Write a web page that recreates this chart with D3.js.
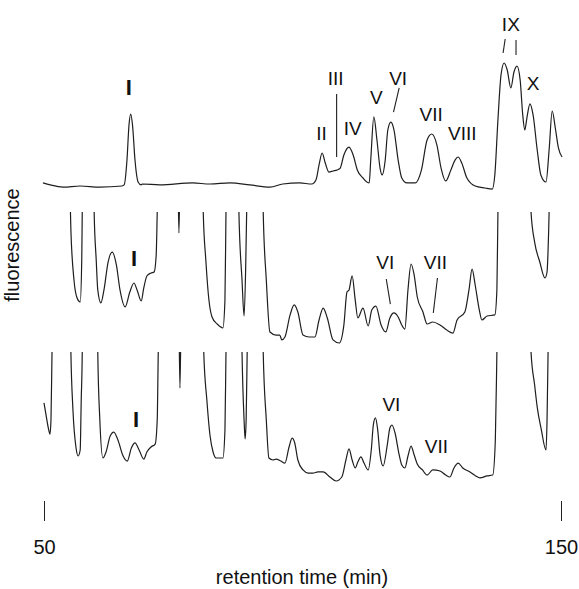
<!DOCTYPE html>
<html>
<head>
<meta charset="utf-8">
<script src="https://cdn.jsdelivr.net/npm/d3@7"></script>
<style>
  html, body { margin: 0; padding: 0; background: #fff; }
  svg text { font-family: "Liberation Sans", Arial, Helvetica, sans-serif; fill: #111; }
</style>
</head>
<body>
<svg id="chart" width="579" height="589"></svg>
<script>
// Retention time axis (min)
const timeTicks = [50, 150];

// Fluorescence traces: [retention time (min), relative fluorescence].
// Values above 100 are off-scale in the two lower traces.
const traceStandard = [
  [49.8,2.3],[51.2,0.8],[53.7,-0.8],[57.0,0],[60.8,-0.8],[65.1,0],[65.5,0.8],[66.05,19.5],[66.44,45.9],
  [66.77,54.1],[67.12,45.9],[67.6,19.5],[68.2,3],[68.8,0.8],[69.0,1.5],[72.4,0.8],[78.8,2.3],[82.1,1.5],
  [86.0,2.3],[89.8,0.8],[93.7,-0.8],[96.2,1.5],[99.5,2.3],[101.8,1.5],[102.6,4.5],[103.2,15.8],[103.8,24.8],
  [104.4,17.3],[105.1,10.5],[105.9,11.3],[106.7,12.0],[107.3,13.5],[108.0,23.3],[109.0,29.3],[109.8,23.3],
  [110.6,12.0],[111.7,6.0],[112.9,2.3],[113.2,19.5],[113.8,51.9],[114.4,34.6],[115.0,13.5],[115.4,8.3],
  [116.0,19.5],[116.5,42.1],[117.1,48.1],[117.7,42.1],[118.5,19.5],[119.2,6.0],[120.2,2.3],[121.8,2.3],
  [123.0,12.0],[124.1,34.6],[125.0,39.1],[126.0,30.8],[126.8,13.5],[127.7,3.8],[128.7,12.0],[129.5,19.5],
  [130.1,21.8],[130.8,17.3],[131.8,6.0],[133.4,0],[135.3,-1.5],[136.7,-2.3],[137.2,8.3],[137.8,49.6],
  [138.4,83.5],[139.0,92.5],[139.6,87.2],[140.3,73.7],[140.9,85.7],[141.5,90.2],[142.1,79.7],[142.6,53.4],
  [143.0,42.1],[143.4,51.1],[144.0,61.7],[144.6,53.4],[145.4,27.1],[146.1,8.3],[147.1,3.0],[147.7,27.1],
  [148.3,56.4],[148.9,43.6],[149.5,28.6],[150.2,21.8]
];

const traceSampleA = [
  [54.8,150],[55.2,86.5],[55.8,48.9],[56.4,35.3],[57.0,32.3],[57.3,63.9],[57.4,100],[57.6,150],[58.5,200],
  [59.5,150],[59.7,100],[60.1,63.9],[60.4,41.4],[61.0,31.6],[61.6,41.4],[62.4,62.4],[63.2,69.9],[64.0,60.2],
  [64.7,41.4],[65.7,28.6],[66.6,39.8],[67.4,46.6],[68.0,41.4],[68.8,33.1],[69.3,42.9],[69.9,51.9],[70.7,54.1],
  [71.3,54.9],[71.7,67.7],[71.9,100],[72.1,150],[74,200],[75.8,150],[76.1,84.2],[76.4,150],[78.5,200],
  [80.6,150],[80.8,100],[81.3,63.9],[81.9,33.8],[82.5,21.1],[83.5,15.8],[84.6,12.8],[85.0,33.8],[85.2,100],
  [85.4,150],[86.5,200],[87.5,150],[87.7,100],[88.3,48.9],[88.7,21.8],[89.0,56.4],[89.2,100],[89.5,150],
  [91,200],[92.2,150],[92.4,100],[93.0,48.9],[93.7,9.8],[94.9,7.5],[95.6,7.5],[96.0,3.8],[96.6,6.0],
  [97.6,22.6],[98.4,30.1],[99.1,24.8],[100.1,7.5],[101.3,6.0],[102.4,6.0],[103.2,18.8],[104.0,27.8],
  [104.8,20.3],[105.9,3.8],[107.1,1.5],[108.0,15.0],[108.6,39.8],[109.0,41.4],[109.6,51.9],[110.2,33.8],
  [110.7,20.3],[111.7,27.8],[112.7,14.3],[113.4,26.3],[114.2,29.3],[115.2,15.0],[116.1,9.8],[116.9,20.3],
  [117.7,24.1],[118.5,21.1],[119.2,15.0],[119.8,12.0],[120.4,41.4],[121.0,60.9],[121.6,52.6],[122.2,36.1],
  [123.3,24.8],[124.1,15.8],[125.2,17.3],[126.6,15.0],[127.9,11.3],[129.1,9.0],[129.9,18.8],[131.4,24.8],
  [132.2,41.4],[132.8,57.1],[133.4,45.1],[134.2,26.3],[134.7,18.8],[135.7,21.8],[137.2,22.6],[137.6,41.4],
  [137.8,100],[138.0,150],[141,200],[144.0,150],[144.2,100],[144.9,77.4],[145.9,62.4],[146.9,50.4],
  [147.3,54.9],[147.5,71.4],[147.7,100],[147.9,150],[148.5,200]
];

const traceSampleB = [
  [50.0,61.7],[50.4,52.6],[50.8,43.6],[51.16,38.3],[51.35,48.9],[51.55,100],[51.74,150],[53.5,200],
  [55.0,150],[55.2,100],[55.6,56.4],[56.2,27.8],[56.6,21.8],[57.0,26.3],[57.2,63.9],[57.4,100],[57.5,150],
  [59,200],[60.3,150],[60.4,100],[60.8,48.9],[61.4,20.3],[62.0,24.8],[62.8,36.8],[63.5,39.8],[64.3,33.8],
  [65.3,21.8],[66.1,18.0],[66.9,27.8],[67.6,31.6],[68.4,26.3],[69.3,19.5],[69.9,24.8],[70.7,28.6],
  [71.5,30.8],[71.9,48.9],[72.1,100],[72.4,150],[74,200],[76.0,150],[76.3,72.9],[76.6,150],[78.5,200],
  [80.8,150],[80.9,100],[81.5,63.9],[82.1,37.6],[82.7,24.8],[83.3,20.3],[84.6,20.3],[85.0,41.4],[85.2,100],
  [85.4,150],[86.5,200],[88.1,150],[88.3,100],[88.7,48.9],[88.9,34.6],[89.1,48.9],[89.3,100],[89.5,150],
  [91,200],[92.2,150],[92.4,100],[93.0,48.9],[93.5,20.3],[94.3,18.8],[94.9,19.5],[95.8,18.0],[96.6,16.5],
  [97.4,28.6],[98.0,35.3],[98.5,31.6],[99.1,18.8],[100.1,11.3],[101.1,9.0],[102.0,9.0],[103.0,9.8],
  [104.0,9.8],[105.3,6.0],[106.5,3.0],[107.6,6.0],[108.4,18.8],[109.0,27.1],[109.6,18.8],[110.2,12.8],
  [110.7,17.3],[111.3,21.1],[111.9,16.5],[112.7,11.3],[113.3,26.3],[113.7,45.1],[114.1,50.4],[114.5,42.9],
  [115.0,22.6],[115.6,14.3],[116.4,30.1],[116.9,42.9],[117.3,45.1],[117.9,39.1],[118.7,22.6],[119.2,15.0],
  [119.8,12.8],[120.4,21.8],[121.0,29.3],[121.6,22.6],[122.2,15.8],[123.2,11.3],[124.1,7.5],[125.2,11.3],
  [126.6,10.5],[127.7,7.5],[128.5,6.0],[129.3,12.8],[130.1,16.5],[131.0,12.8],[132.4,9.8],[133.5,6.8],
  [134.3,5.3],[135.7,6.8],[136.8,7.5],[137.3,33.8],[137.6,100],[137.8,150],[141,200],[144.0,150],
  [144.2,100],[144.9,75.2],[145.4,58.6],[146.2,41.4],[147.1,26.3],[147.3,48.9],[147.5,100],[147.7,150],
  [148.5,200]
];

// Peak labels: [text, retention time, fluorescence]
const labelsStandard = [
  ["I",66.4,73.7],["II",103.7,39.8],["III",106.4,80.5],["IV",109.7,43.6],["V",114.3,66.9],
  ["VI",118.5,80.5],["VII",124.9,54.1],["VIII",130.9,39.1],["IX",140.3,121.8],["X",144.6,76.7]
];
const labelsSampleA = [["I",67.4,65.4],["VI",116.0,61.7],["VII",125.7,61.7]];
const labelsSampleB = [["I",67.8,49.6],["VI",117.2,60.2],["VII",125.9,28.6]];

// Leader lines: [t1, v1, t2, v2]
const leadersStandard = [
  [106.6,69.2,106.6,21.8],[118.7,73.7,117.6,55.6],[139.2,110.5,138.8,100],[141.3,109.8,141.3,98.5]
];
const leadersSampleA = [[116.2,49.6,117.0,30.8],[126.1,50.4,125.3,24.1]];
const leadersSampleB = [];

const svg = d3.select("#chart");

const x = d3.scaleLinear().domain([50, 150]).range([44, 561]);

const panels = [
  { id: "std", trace: traceStandard, labels: labelsStandard, leaders: leadersStandard,
    y: d3.scaleLinear().domain([0, 100]).range([186, 53]), clip: null },
  { id: "a", trace: traceSampleA, labels: labelsSampleA, leaders: leadersSampleA,
    y: d3.scaleLinear().domain([0, 100]).range([345, 212]), clip: [212, 360] },
  { id: "b", trace: traceSampleB, labels: labelsSampleB, leaders: leadersSampleB,
    y: d3.scaleLinear().domain([0, 100]).range([485, 352]), clip: [352, 495] }
];

const defs = svg.append("defs");

panels.forEach(p => {
  const g = svg.append("g");
  const line = d3.line()
    .x(d => x(d[0]))
    .y(d => p.y(d[1]))
    .curve(d3.curveMonotoneX);

  const traceG = g.append("g");
  if (p.clip) {
    defs.append("clipPath").attr("id", "clip-" + p.id)
      .append("rect")
      .attr("x", 0).attr("width", 579)
      .attr("y", p.clip[0]).attr("height", p.clip[1] - p.clip[0]);
    traceG.attr("clip-path", "url(#clip-" + p.id + ")");
  }
  traceG.append("path")
    .datum(p.trace)
    .attr("d", line)
    .attr("fill", "none")
    .attr("stroke", "#1e1e1e")
    .attr("stroke-width", 1.2)
    .attr("stroke-linejoin", "round");

  g.selectAll("line.leader")
    .data(p.leaders)
    .join("line")
    .attr("class", "leader")
    .attr("x1", d => x(d[0])).attr("y1", d => p.y(d[1]))
    .attr("x2", d => x(d[2])).attr("y2", d => p.y(d[3]))
    .attr("stroke", "#1e1e1e")
    .attr("stroke-width", 1.1);

  g.selectAll("text.peak")
    .data(p.labels)
    .join("text")
    .attr("class", "peak")
    .attr("x", d => x(d[1]))
    .attr("y", d => p.y(d[2]))
    .attr("text-anchor", "middle")
    .attr("dominant-baseline", "central")
    .style("font-size", d => d[0] === "I" ? "22px" : "19px")
    .style("font-weight", d => d[0] === "I" ? "bold" : "normal")
    .text(d => d[0]);
});

// Time axis: two tick marks with labels
const axis = d3.axisBottom(x)
  .tickValues(timeTicks)
  .tickSize(20)
  .tickPadding(19)
  .tickFormat(d3.format("d"));

const axisG = svg.append("g")
  .attr("transform", "translate(0,501)")
  .call(axis);
axisG.select(".domain").remove();
axisG.selectAll(".tick line").attr("stroke", "#222").attr("stroke-width", 1);
axisG.selectAll(".tick text")
  .style("font-size", "20px")
  .style("font-family", "'Liberation Sans', Arial, Helvetica, sans-serif")
  .attr("fill", "#111");

svg.append("text")
  .attr("x", 302)
  .attr("y", 584)
  .attr("text-anchor", "middle")
  .style("font-size", "20px")
  .text("retention time (min)");

svg.append("text")
  .attr("transform", "translate(19,245) rotate(-90)")
  .attr("text-anchor", "middle")
  .style("font-size", "20px")
  .text("fluorescence");
</script>
</body>
</html>
